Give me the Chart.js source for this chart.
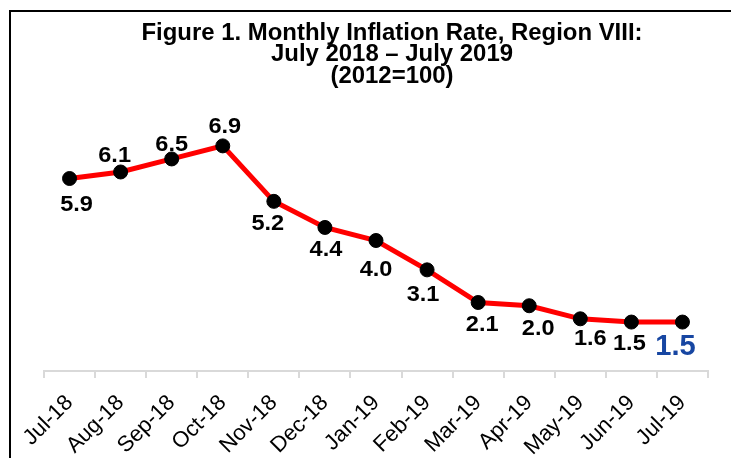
<!DOCTYPE html>
<html>
<head>
<meta charset="utf-8">
<script src="https://cdn.jsdelivr.net/npm/chart.js@4.4.1/dist/chart.umd.min.js"></script>
<style>
html,body{margin:0;padding:0;background:#fff;}
#wrap{position:relative;width:731px;height:458px;}
</style>
</head>
<body>
<div id="wrap"><canvas id="c" width="731" height="458"></canvas></div>
<script>
const categories = ['Jul-18','Aug-18','Sep-18','Oct-18','Nov-18','Dec-18','Jan-19','Feb-19','Mar-19','Apr-19','May-19','Jun-19','Jul-19'];
const inflation = [5.9, 6.1, 6.5, 6.9, 5.2, 4.4, 4.0, 3.1, 2.1, 2.0, 1.6, 1.5, 1.5];
const titleLines = ['Figure 1. Monthly Inflation Rate, Region VIII:', 'July 2018 \u2013 July 2019', '(2012=100)'];
// label placement relative to each point (style only, not data)
const labelOffsets = [[7,25],[-6,-18],[0,-16],[2,-21],[-6,21],[1,21],[0,28],[-4,23],[4,21],[9,21],[10,18],[-2,20],[-7,22]];

const FONT = '"Liberation Sans", Arial, sans-serif';

function stretchedText(ctx, text, x, y, sx) {
  ctx.save();
  ctx.translate(x, y);
  ctx.scale(sx, 1);
  ctx.fillText(text, 0, 0);
  ctx.restore();
}

const framePlugin = {
  id: 'frame',
  beforeDraw(chart) {
    const ctx = chart.ctx;
    ctx.save();
    ctx.fillStyle = '#fff';
    ctx.fillRect(0, 0, chart.width, chart.height);
    ctx.fillStyle = '#000';
    ctx.fillRect(9, 10, chart.width - 9, 2);
    ctx.fillRect(9, 10, 2, chart.height - 10);
    ctx.restore();
  }
};

const titlePlugin = {
  id: 'customTitle',
  afterDraw(chart) {
    const ctx = chart.ctx;
    ctx.save();
    ctx.fillStyle = '#000';
    ctx.font = 'bold 23px ' + FONT;
    ctx.textAlign = 'center';
    ctx.textBaseline = 'alphabetic';
    const baselines = [40, 61, 83];
    titleLines.forEach((t, i) => stretchedText(ctx, t, 392, baselines[i], 1.04));
    ctx.restore();
  }
};

const labelPlugin = {
  id: 'valueLabels',
  afterDatasetsDraw(chart) {
    const ctx = chart.ctx;
    const meta = chart.getDatasetMeta(0);
    ctx.save();
    ctx.textAlign = 'center';
    ctx.textBaseline = 'alphabetic';
    meta.data.forEach((pt, i) => {
      const last = i === inflation.length - 1;
      const size = last ? 30 : 22;
      ctx.font = 'bold ' + size + 'px ' + FONT;
      ctx.fillStyle = last ? '#1746a2' : '#000';
      const cx = pt.x + labelOffsets[i][0];
      const cy = pt.y + labelOffsets[i][1];
      stretchedText(ctx, inflation[i].toFixed(1), cx, cy + size * 0.358, last ? 0.97 : 1.07);
    });
    ctx.restore();
  }
};

new Chart(document.getElementById('c'), {
  type: 'line',
  data: {
    labels: categories,
    datasets: [{
      data: inflation,
      borderColor: '#ff0000',
      borderWidth: 5,
      tension: 0,
      pointRadius: 7,
      pointBorderWidth: 1,
      pointBackgroundColor: '#000',
      pointBorderColor: '#000',
      pointHoverRadius: 7
    }]
  },
  options: {
    responsive: false,
    animation: false,
    events: [],
    layout: { padding: { left: 44, right: 23, top: 110, bottom: 0 } },
    plugins: { legend: { display: false }, title: { display: false }, tooltip: { enabled: false } },
    scales: {
      x: {
        offset: true,
        grid: { offset: true, drawOnChartArea: false, drawTicks: true, tickLength: 7, color: '#d9d9d9', lineWidth: 2 },
        border: { display: true, color: '#d9d9d9', width: 2 },
        ticks: {
          autoSkip: false, minRotation: 45, maxRotation: 45, padding: 12,
          color: '#000', font: { family: FONT, size: 22 }
        },
        afterFit(scale) { scale.height = 87; }
      },
      y: { display: false, min: 0, max: 8 }
    }
  },
  plugins: [framePlugin, titlePlugin, labelPlugin]
});
</script>
</body>
</html>
